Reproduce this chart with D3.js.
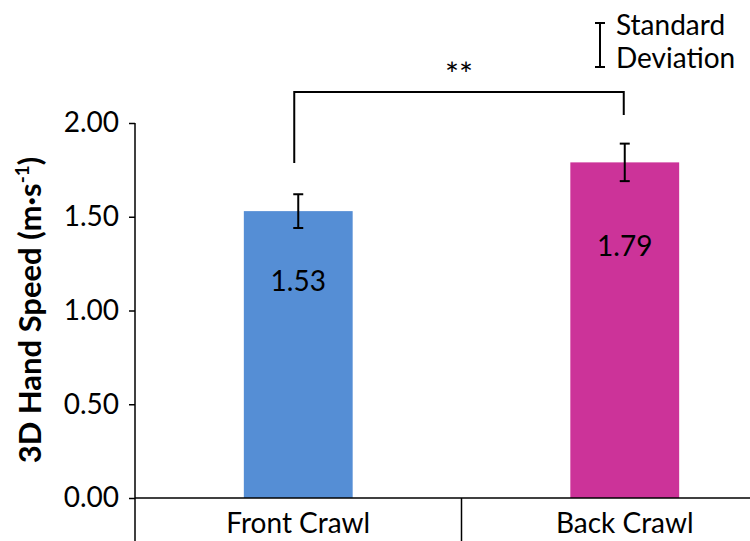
<!DOCTYPE html>
<html>
<head>
<meta charset="utf-8">
<script src="https://cdn.jsdelivr.net/npm/d3@7"></script>
<style>
  html, body { margin: 0; padding: 0; background: #fff; }
  svg { display: block; font-family: Lato, "Open Sans", sans-serif; }
</style>
</head>
<body>
<svg id="chart" width="750" height="541"></svg>
<script>
// Mean 3D hand speed per stroke, with standard deviations
const categories = ["Front Crawl", "Back Crawl"];
const means = [1.53, 1.79];
const sds = [0.09, 0.10];
const yTicks = [0, 0.5, 1.0, 1.5, 2.0];
const barColors = ["#558ed5", "#cc3399"];

const svg = d3.select("#chart");
const W = 750, H = 541;
const axisX = 135, baseY = 498, topY = 123;
const ink = "#000";

const y = d3.scaleLinear().domain([0, 2]).range([baseY, topY]);
const x = d3.scaleBand().domain(categories).range([axisX, 788]).padding(0);
const barW = x.bandwidth() / 3;
const cx = c => x(c) + x.bandwidth() / 2;

// bars
svg.append("g").selectAll("rect")
  .data(categories)
  .join("rect")
  .attr("x", c => cx(c) - barW / 2)
  .attr("y", (c, i) => y(means[i]))
  .attr("width", barW)
  .attr("height", (c, i) => y(0) - y(means[i]))
  .attr("fill", (c, i) => barColors[i]);

// error bars (± 1 SD)
const eb = svg.append("g").attr("stroke", ink).attr("stroke-width", 2).attr("fill", "none");
categories.forEach((c, i) => {
  const xc = cx(c), y1 = y(means[i] + sds[i]), y2 = y(means[i] - sds[i]);
  eb.append("line").attr("x1", xc).attr("x2", xc).attr("y1", y1).attr("y2", y2);
  eb.append("line").attr("x1", xc - 5).attr("x2", xc + 5).attr("y1", y1).attr("y2", y1);
  eb.append("line").attr("x1", xc - 5).attr("x2", xc + 5).attr("y1", y2).attr("y2", y2);
});

// value labels inside bars
svg.append("g").selectAll("text")
  .data(categories)
  .join("text")
  .attr("x", c => cx(c))
  .attr("y", (c, i) => y(means[i] * 0.72))
  .attr("text-anchor", "middle")
  .attr("font-size", 28)
  .attr("fill", ink)
  .text((c, i) => means[i].toFixed(2));

// y axis
const yAxis = d3.axisLeft(y)
  .tickValues(yTicks)
  .tickFormat(d3.format(".2f"))
  .tickSizeInner(6)
  .tickSizeOuter(0)
  .tickPadding(10);
const gy = svg.append("g").attr("transform", `translate(${axisX},0)`).call(yAxis);
gy.select(".domain").remove();
gy.selectAll(".tick line").attr("stroke", ink).attr("stroke-width", 1.5);
gy.selectAll(".tick text").attr("font-size", 28).attr("fill", ink)
  .attr("font-family", "Lato, sans-serif");
svg.append("line")
  .attr("x1", axisX).attr("x2", axisX)
  .attr("y1", y(2)).attr("y2", H)
  .attr("stroke", ink).attr("stroke-width", 1.5);

// x axis with category separators
svg.append("line")
  .attr("x1", axisX).attr("x2", W)
  .attr("y1", y(0)).attr("y2", y(0))
  .attr("stroke", ink).attr("stroke-width", 1.5);
categories.slice(1).forEach(c => {
  svg.append("line")
    .attr("x1", x(c)).attr("x2", x(c))
    .attr("y1", y(0)).attr("y2", H)
    .attr("stroke", ink).attr("stroke-width", 1.5);
});
svg.append("g").selectAll("text")
  .data(categories)
  .join("text")
  .attr("x", c => cx(c))
  .attr("y", 533)
  .attr("text-anchor", "middle")
  .attr("font-size", 28)
  .attr("fill", ink)
  .text(c => c);

// y axis title
const title = svg.append("text")
  .attr("transform", "translate(41,310) rotate(-90)")
  .attr("text-anchor", "middle")
  .attr("font-size", 31)
  .attr("font-weight", "bold")
  .attr("fill", ink);
title.append("tspan").text("3D Hand Speed (m·s");
title.append("tspan").attr("font-size", 19).attr("dy", -12).text("-1");
title.append("tspan").attr("dy", 12).text(")");

// significance bracket
const bx1 = cx(categories[0]) - 4, bx2 = cx(categories[1]) - 1, by = 92;
svg.append("path")
  .attr("d", `M${bx1},163V${by}H${bx2}V115`)
  .attr("fill", "none")
  .attr("stroke", ink)
  .attr("stroke-width", 2);
svg.append("text")
  .attr("x", (bx1 + bx2) / 2)
  .attr("y", 86)
  .attr("text-anchor", "middle")
  .attr("font-size", 33)
  .attr("fill", ink)
  .text("**");

// legend: standard deviation key
const lg = svg.append("g").attr("stroke", ink).attr("stroke-width", 2);
lg.append("line").attr("x1", 600).attr("x2", 600).attr("y1", 23).attr("y2", 67);
lg.append("line").attr("x1", 595).attr("x2", 605).attr("y1", 23).attr("y2", 23);
lg.append("line").attr("x1", 595).attr("x2", 605).attr("y1", 67).attr("y2", 67);
svg.append("text").attr("x", 616).attr("y", 35).attr("font-size", 28).attr("fill", ink).text("Standard");
svg.append("text").attr("x", 616).attr("y", 68).attr("font-size", 28).attr("fill", ink).text("Deviation");
</script>
</body>
</html>
